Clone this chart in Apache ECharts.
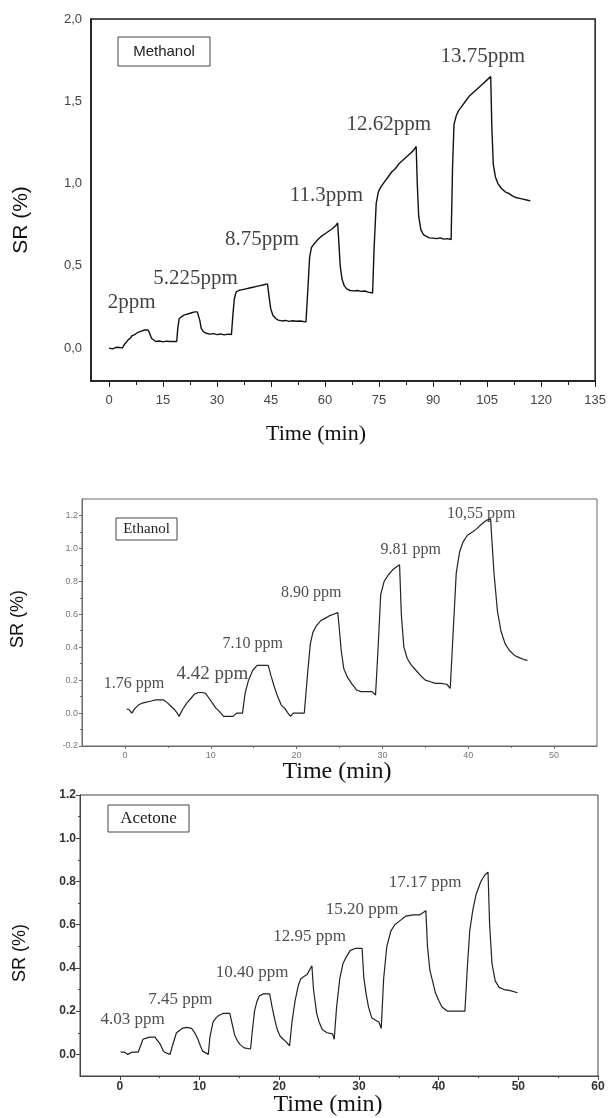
<!DOCTYPE html>
<html>
<head>
<meta charset="utf-8">
<script src="https://cdn.jsdelivr.net/npm/echarts@6/dist/echarts.min.js"></script>
<style>
  html, body { margin: 0; padding: 0; background: #fff; }
  #chart { width: 609px; height: 1118px; }
</style>
</head>
<body>
<div id="chart"></div>
<script>
// ---- Methanol response (time in min, SR in %) ----
const methanolData = [
  [0,0.0],[0.5,0.005],[1,-0.005],[1.5,0.0],[2,0.005],[2.5,-0.003],[3,0.004],[3.7,0.0],
  [4.2,0.02],[4.8,0.035],[5.3,0.05],[5.9,0.06],[6.4,0.075],[7,0.08],[7.5,0.09],[8,0.095],[8.6,0.1],[9.2,0.105],[9.8,0.11],[10.3,0.105],[10.8,0.11],
  [11.2,0.095],[11.6,0.07],[12,0.055],[12.5,0.045],[13,0.04],[14,0.043],[15,0.038],[16,0.042],[17,0.04],[18,0.041],[18.8,0.04],
  [19.1,0.12],[19.5,0.18],[20,0.19],[20.8,0.2],[21.5,0.205],[22.3,0.21],[23,0.215],[23.8,0.22],[24.5,0.22],[24.9,0.22],
  [25.2,0.17],[25.6,0.12],[26.2,0.1],[27,0.09],[28,0.085],[29,0.088],[30,0.082],[31,0.086],[32,0.08],[33,0.085],[34,0.083],
  [34.4,0.2],[34.8,0.3],[35.3,0.34],[36,0.35],[37,0.355],[38,0.36],[39,0.365],[40,0.37],[41,0.375],[42,0.38],[43,0.385],[44,0.39],
  [44.4,0.32],[44.9,0.24],[45.5,0.2],[46.3,0.18],[47,0.17],[48,0.165],[49,0.168],[50,0.162],[51,0.166],[52,0.163],[53,0.165],[54,0.162],[54.7,0.16],
  [55.2,0.35],[55.7,0.55],[56.2,0.61],[57,0.635],[58,0.66],[59,0.68],[60,0.695],[61,0.71],[62,0.725],[63,0.745],[63.5,0.76],
  [63.8,0.65],[64.2,0.5],[64.7,0.42],[65.3,0.38],[66,0.36],[67,0.35],[68,0.348],[69,0.35],[70,0.345],[71,0.347],[72,0.34],[73.2,0.335],
  [73.6,0.6],[74.2,0.88],[74.8,0.95],[75.5,0.98],[76.5,1.01],[77.5,1.04],[78.5,1.07],[79.5,1.09],[80.5,1.12],[81.5,1.14],[82.5,1.16],[83.5,1.18],[84.5,1.2],[85.3,1.225],
  [85.6,1.0],[86,0.8],[86.6,0.72],[87.3,0.69],[88,0.68],[89,0.67],[90,0.668],[91,0.665],[92,0.67],[93,0.662],[94,0.665],[95,0.66],
  [95.4,1.1],[95.8,1.36],[96.4,1.41],[97,1.44],[98,1.47],[99,1.5],[100,1.53],[101,1.55],[102,1.57],[103,1.59],[104,1.61],[105,1.63],[106,1.65],
  [106.3,1.35],[106.7,1.12],[107.3,1.04],[108,1.0],[109,0.97],[110,0.95],[111,0.94],[112,0.925],[113,0.915],[114,0.91],[115,0.905],[116,0.9],[117,0.895]
];
const methanolNotes = [
  ['2ppm', 6.3, 0.28], ['5.225ppm', 24.0, 0.42], ['8.75ppm', 42.5, 0.66],
  ['11.3ppm', 60.4, 0.93], ['12.62ppm', 77.7, 1.36], ['13.75ppm', 103.8, 1.77]
];
const methanolXTicks = [0, 15, 30, 45, 60, 75, 90, 105, 120, 135];
const methanolXMinor = [7.5, 22.5, 37.5, 52.5, 67.5, 82.5, 97.5, 112.5, 127.5];
const methanolYTicks = [0, 0.5, 1.0, 1.5, 2.0];

// ---- Ethanol response ----
const ethanolData = [
  [0.2,0.025],[0.5,0.02],[0.8,0.0],[1.2,0.03],[1.6,0.05],[2.0,0.06],[2.4,0.065],[2.8,0.07],[3.2,0.075],[3.6,0.08],[4.0,0.08],[4.5,0.08],
  [4.9,0.065],[5.4,0.04],[5.8,0.02],[6.1,0.0],[6.3,-0.02],[6.7,0.02],[7.2,0.06],[7.7,0.09],[8.1,0.115],[8.6,0.125],[9.0,0.125],[9.4,0.12],
  [9.8,0.09],[10.2,0.06],[10.6,0.03],[11.0,0.01],[11.5,-0.02],[12.0,-0.02],[12.6,-0.02],[13.0,0.0],[13.7,0.0],
  [14.0,0.12],[14.4,0.2],[14.9,0.26],[15.4,0.29],[16.0,0.29],[16.7,0.29],
  [17.0,0.23],[17.4,0.16],[17.8,0.1],[18.2,0.05],[18.6,0.03],[19.0,0.0],[19.3,-0.02],[19.6,0.0],[20.3,0.0],[20.9,0.0],
  [21.3,0.25],[21.6,0.42],[21.9,0.49],[22.3,0.53],[22.8,0.56],[23.3,0.575],[23.8,0.59],[24.3,0.6],[24.8,0.61],
  [25.0,0.5],[25.2,0.38],[25.5,0.27],[25.9,0.22],[26.4,0.18],[27.0,0.14],[27.5,0.13],[28.2,0.13],[28.8,0.13],[29.2,0.11],
  [29.5,0.4],[29.8,0.72],[30.2,0.8],[30.7,0.84],[31.2,0.87],[31.7,0.89],[32.0,0.9],
  [32.2,0.6],[32.5,0.4],[32.9,0.33],[33.4,0.29],[33.9,0.26],[34.4,0.23],[35.0,0.2],[35.6,0.19],[36.2,0.18],[36.8,0.18],[37.5,0.175],[37.9,0.15],
  [38.2,0.45],[38.6,0.85],[39.0,0.98],[39.4,1.04],[39.9,1.08],[40.5,1.1],[41.0,1.12],[41.6,1.15],[42.1,1.17],[42.6,1.18],[42.8,1.18],
  [43.0,0.85],[43.4,0.62],[43.8,0.5],[44.3,0.42],[44.8,0.38],[45.4,0.35],[46.0,0.335],[46.5,0.325],[46.9,0.32]
];
const ethanolNotes = [
  ['1.76 ppm', 1.05, 0.18, 16], ['4.42 ppm', 10.2, 0.24, 19], ['7.10 ppm', 14.9, 0.42, 16],
  ['8.90 ppm', 21.7, 0.73, 16], ['9.81 ppm', 33.3, 0.99, 16], ['10,55 ppm', 41.5, 1.21, 16]
];
const ethanolXTicks = [0, 10, 20, 30, 40, 50];
const ethanolXMinor = [5, 15, 25, 35, 45];
const ethanolYTicks = [-0.2, 0.0, 0.2, 0.4, 0.6, 0.8, 1.0, 1.2];
const ethanolYMinor = [-0.1, 0.1, 0.3, 0.5, 0.7, 0.9, 1.1];

// ---- Acetone response ----
const acetoneData = [
  [0.1,0.01],[0.6,0.01],[1.0,0.0],[1.5,0.01],[2.3,0.01],[2.6,0.04],[2.9,0.07],[3.3,0.075],[3.7,0.08],[4.4,0.08],
  [4.8,0.06],[5.1,0.045],[5.4,0.02],[5.6,0.01],[6.3,0.0],
  [6.6,0.04],[7.1,0.1],[7.5,0.11],[7.8,0.12],[8.4,0.125],[9.0,0.12],[9.4,0.1],[9.8,0.07],[10.1,0.04],[10.4,0.015],[11.1,0.0],
  [11.3,0.08],[11.7,0.15],[12.1,0.17],[12.4,0.18],[13.0,0.19],[13.8,0.19],[14.1,0.14],[14.4,0.09],[14.8,0.06],[15.1,0.045],[15.6,0.03],[16.4,0.025],
  [16.6,0.1],[16.9,0.2],[17.2,0.245],[17.5,0.27],[18.0,0.28],[18.8,0.28],[19.1,0.22],[19.5,0.15],[19.8,0.11],[20.1,0.085],[20.5,0.07],[20.8,0.06],[21.3,0.04],
  [21.6,0.15],[22.0,0.25],[22.4,0.32],[22.7,0.35],[23.1,0.36],[23.5,0.37],[24.1,0.41],
  [24.3,0.3],[24.7,0.19],[25.0,0.15],[25.4,0.115],[26.0,0.1],[26.7,0.095],[26.9,0.07],
  [27.2,0.22],[27.6,0.35],[28.0,0.42],[28.4,0.45],[28.9,0.48],[29.5,0.49],[30.4,0.49],
  [30.6,0.36],[30.9,0.28],[31.2,0.22],[31.6,0.17],[32.0,0.16],[32.5,0.15],[32.8,0.12],
  [33.1,0.35],[33.5,0.5],[34.0,0.57],[34.5,0.6],[35.2,0.62],[35.9,0.64],[36.8,0.645],[37.6,0.645],[38.4,0.665],
  [38.6,0.5],[38.9,0.39],[39.3,0.33],[39.6,0.285],[40.0,0.25],[40.4,0.22],[41.1,0.2],[42.0,0.2],[43.3,0.2],
  [43.6,0.4],[43.9,0.57],[44.3,0.67],[44.7,0.74],[45.3,0.8],[45.8,0.83],[46.2,0.843],
  [46.4,0.6],[46.7,0.42],[47.1,0.34],[47.6,0.31],[48.2,0.3],[49.0,0.295],[49.9,0.285]
];
const acetoneNotes = [
  ['4.03 ppm', 1.6, 0.163], ['7.45 ppm', 7.6, 0.256], ['10.40 ppm', 16.6, 0.377],
  ['12.95 ppm', 23.8, 0.544], ['15.20 ppm', 30.4, 0.67], ['17.17 ppm', 38.3, 0.795]
];
const acetoneXTicks = [0, 10, 20, 30, 40, 50, 60];
const acetoneXMinor = [5, 15, 25, 35, 45, 55];
const acetoneYTicks = [0.0, 0.2, 0.4, 0.6, 0.8, 1.0, 1.2];
const acetoneYMinor = [0.1, 0.3, 0.5, 0.7, 0.9, 1.1];

const SERIF = 'Liberation Serif';
const SANS = 'Liberation Sans';

const grids = [
  { left: 91, top: 19, width: 505, height: 362, show: true, borderColor: '#1a1a1a', borderWidth: 1.5 },
  { left: 82, top: 499, width: 515, height: 247, show: true, borderColor: '#6a6a6a', borderWidth: 1 },
  { left: 80, top: 795, width: 518, height: 281, show: true, borderColor: '#444', borderWidth: 1 }
];

// builds a major axis + a label-less companion axis carrying the minor ticks
function axisPair(kind, gridIndex, min, max, ticks, minor, cfg) {
  const pos = kind === 'x' ? 'bottom' : 'left';
  const major = {
    type: 'value', gridIndex, min, max, position: pos,
    axisLine: { show: true, onZero: false, lineStyle: { color: cfg.lineColor, width: cfg.lineWidth } },
    axisTick: { show: cfg.majorLen > 0, customValues: ticks, length: cfg.majorLen, lineStyle: { color: cfg.lineColor, width: 1 } },
    axisLabel: {
      customValues: ticks, margin: cfg.margin, color: cfg.labelColor, fontFamily: SANS,
      fontSize: cfg.fontSize, fontWeight: cfg.fontWeight || 'normal', formatter: cfg.formatter
    },
    splitLine: { show: false }
  };
  const minorAxis = {
    type: 'value', gridIndex, min, max, position: pos,
    axisLine: { show: false, onZero: false },
    axisTick: { show: minor.length > 0 && cfg.minorLen > 0, customValues: minor, length: cfg.minorLen, lineStyle: { color: cfg.lineColor, width: 1 } },
    axisLabel: { show: false },
    splitLine: { show: false }
  };
  return [major, minorAxis];
}

const commaFmt = v => v.toFixed(1).replace('.', ',');
const dotFmt = v => v.toFixed(1);
const intFmt = v => String(Math.round(v));

const xAxes = [
  ...axisPair('x', 0, -5, 135, methanolXTicks, methanolXMinor,
    { lineColor: '#1a1a1a', lineWidth: 1.5, majorLen: 6, minorLen: 4, margin: 13, labelColor: '#444', fontSize: 13, formatter: intFmt }),
  ...axisPair('x', 1, -5, 55, ethanolXTicks, ethanolXMinor,
    { lineColor: '#6a6a6a', lineWidth: 1, majorLen: 3, minorLen: 2, margin: 5, labelColor: '#777', fontSize: 9, formatter: intFmt }),
  ...axisPair('x', 2, -5, 60, acetoneXTicks, acetoneXMinor,
    { lineColor: '#444', lineWidth: 1, majorLen: 4, minorLen: 2, margin: 5, labelColor: '#333', fontSize: 12, fontWeight: 'bold', formatter: intFmt })
];
const yAxes = [
  ...axisPair('y', 0, -0.2, 2.0, methanolYTicks, [],
    { lineColor: '#1a1a1a', lineWidth: 1.5, majorLen: 0, minorLen: 0, margin: 9, labelColor: '#444', fontSize: 13, formatter: commaFmt }),
  ...axisPair('y', 1, -0.2, 1.3, ethanolYTicks, ethanolYMinor,
    { lineColor: '#6a6a6a', lineWidth: 1, majorLen: 3, minorLen: 2, margin: 4, labelColor: '#777', fontSize: 9, formatter: dotFmt }),
  ...axisPair('y', 2, -0.1, 1.2, acetoneYTicks, acetoneYMinor,
    { lineColor: '#444', lineWidth: 1, majorLen: 4, minorLen: 2, margin: 4, labelColor: '#333', fontSize: 12, fontWeight: 'bold', formatter: dotFmt })
];

function curve(data, idx, width, color) {
  return {
    type: 'line', xAxisIndex: idx * 2, yAxisIndex: idx * 2, data,
    showSymbol: false, silent: true, animation: false,
    lineStyle: { color, width }
  };
}
function notes(list, idx, size, color) {
  return {
    type: 'scatter', xAxisIndex: idx * 2, yAxisIndex: idx * 2, symbolSize: 0,
    silent: true, animation: false,
    data: list.map(n => ({ name: n[0], value: [n[1], n[2]],
      label: { fontSize: n[3] || size } })),
    label: {
      show: true, position: 'inside', formatter: '{b}',
      fontFamily: SERIF, fontSize: size, color
    }
  };
}

const series = [
  curve(methanolData, 0, 1.4, '#111'),
  curve(ethanolData, 1, 1.2, '#222'),
  curve(acetoneData, 2, 1.2, '#222'),
  notes(methanolNotes, 0, 21, '#111'),
  notes(ethanolNotes, 1, 16, '#222'),
  notes(acetoneNotes, 2, 17, '#222')
];

function boxLabel(x, y, w, h, text, font, size) {
  return [
    { type: 'rect', shape: { x, y, width: w, height: h }, style: { fill: '#fff', stroke: '#444', lineWidth: 1 }, z: 10 },
    { type: 'text', x: x + w / 2, y: y + h / 2, z: 11,
      style: { text, font: size + 'px "' + font + '"', fill: '#222', align: 'center', verticalAlign: 'middle' } }
  ];
}
function title(text, x, y, size, font, rotate) {
  return { type: 'text', x, y, rotation: rotate ? Math.PI / 2 : 0, z: 11,
    style: { text, font: size + 'px "' + font + '"', fill: '#111', align: 'center', verticalAlign: 'middle' } };
}

const graphic = [
  ...boxLabel(118, 37, 92, 29, 'Methanol', SANS, 15),
  ...boxLabel(116, 518, 61, 22, 'Ethanol', SERIF, 15),
  ...boxLabel(108, 805, 81, 27, 'Acetone', SERIF, 17),
  title('SR (%)', 21, 220, 21, SANS, true),
  title('SR (%)', 18, 619, 18, SANS, true),
  title('SR (%)', 20, 953, 18, SANS, true),
  title('Time (min)', 316, 434, 22, SERIF, false),
  title('Time (min)', 337, 772, 24, SERIF, false),
  title('Time (min)', 328, 1105, 24, SERIF, false)
];

const chart = echarts.init(document.getElementById('chart'), null, { renderer: 'canvas' });
chart.setOption({
  backgroundColor: '#fff',
  animation: false,
  grid: grids,
  xAxis: xAxes,
  yAxis: yAxes,
  series,
  graphic
});
</script>
</body>
</html>
